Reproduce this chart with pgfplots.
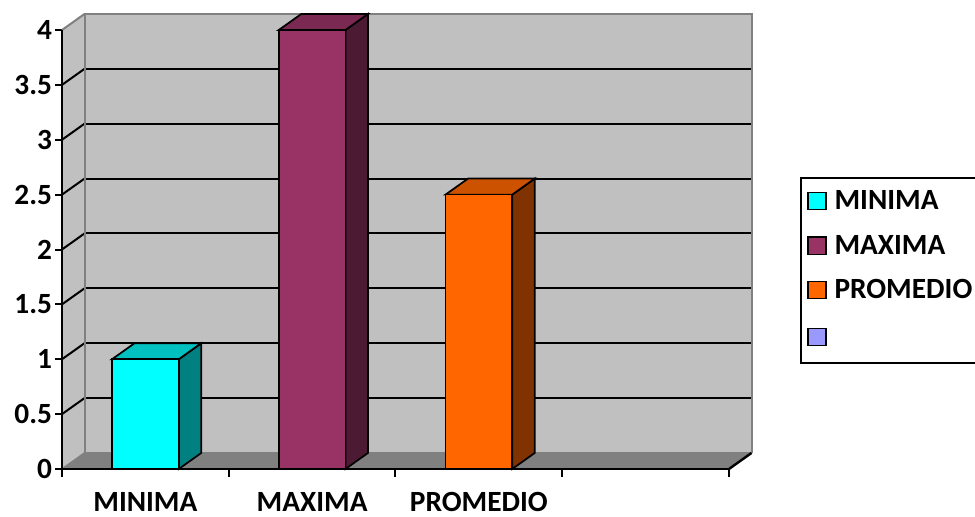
\documentclass[border=0pt]{standalone}
\usepackage{pgfplots}
\pgfplotsset{compat=1.18}
\usepackage{fontspec}
\setmainfont{Carlito}
\definecolor{wall}{HTML}{C0C0C0}
\definecolor{floorc}{HTML}{808080}
\definecolor{edgec}{HTML}{808080}
\definecolor{cyF}{HTML}{00FFFF}\definecolor{cyT}{HTML}{00C0C0}\definecolor{cyS}{HTML}{008080}
\definecolor{mxF}{HTML}{993366}\definecolor{mxT}{HTML}{7A2952}\definecolor{mxS}{HTML}{4D1A33}
\definecolor{prF}{HTML}{FF6600}\definecolor{prT}{HTML}{CC5200}\definecolor{prS}{HTML}{803300}
\definecolor{blu}{HTML}{9999FF}
\begin{document}
\begin{tikzpicture}
\begin{axis}[
  name=ax,
  x=125.06pt, y=82.31pt,
  xmin=0, xmax=4.135, ymin=0, ymax=4.146,
  clip=false,
  axis line style={draw=none},
  axis x line*=bottom, axis y line*=left,
  ytick={0,0.5,1,1.5,2,2.5,3,3.5,4},
  yticklabels={0,0.5,1,1.5,2,2.5,3,3.5,4},
  tick align=outside,
  major tick length=5pt,
  ytick style={black, line width=1.5pt},
  yticklabel style={xshift=1pt},
  xtick={0.5,1.5,2.5},
  xticklabels={MINIMA,MAXIMA,PROMEDIO},
  xtick style={draw=none},
  xticklabel style={yshift=-9pt},
  ticklabel style={font=\bfseries\fontsize{22}{26}\selectfont, text=black},
  /pgf/number format/assume math mode=true,
  legend style={at={(rel axis cs:1.0697,0.6418)}, anchor=north west,
    draw=black, line width=1.5pt, fill=white,
    font=\bfseries\fontsize{22}{26}\selectfont,
    row sep=13.5pt, inner xsep=5pt, inner ysep=7.5pt},
  legend cell align=left,
  legend image code/.code={\draw[#1, draw=black, line width=1pt] (0pt,-6.5pt) rectangle (13.5pt,6.5pt); \path[draw=none, fill=none] (0pt,0pt) -- (18pt,0pt);},
]
% left wall
\addplot[forget plot, fill=wall, draw=none] coordinates {(0,0) (0,4) (0.135,4.146) (0.135,0.146)} -- cycle;
% back wall
\addplot[forget plot, fill=wall, draw=none] coordinates {(0.135,0.146) (0.135,4.146) (4.135,4.146) (4.135,0.146)} -- cycle;
% floor
\addplot[forget plot, fill=floorc, draw=none] coordinates {(0,0) (0.135,0.146) (4.135,0.146) (4,0)} -- cycle;
% gridlines back wall
\addplot[forget plot, black, line width=1.5pt] coordinates {(0.135,0.646) (4.135,0.646)};
\addplot[forget plot, black, line width=1.5pt] coordinates {(0.135,1.146) (4.135,1.146)};
\addplot[forget plot, black, line width=1.5pt] coordinates {(0.135,1.646) (4.135,1.646)};
\addplot[forget plot, black, line width=1.5pt] coordinates {(0.135,2.146) (4.135,2.146)};
\addplot[forget plot, black, line width=1.5pt] coordinates {(0.135,2.646) (4.135,2.646)};
\addplot[forget plot, black, line width=1.5pt] coordinates {(0.135,3.146) (4.135,3.146)};
\addplot[forget plot, black, line width=1.5pt] coordinates {(0.135,3.646) (4.135,3.646)};
% gridlines left wall
\addplot[forget plot, black, line width=1.5pt] coordinates {(0,0.5) (0.135,0.646)};
\addplot[forget plot, black, line width=1.5pt] coordinates {(0,1) (0.135,1.146)};
\addplot[forget plot, black, line width=1.5pt] coordinates {(0,1.5) (0.135,1.646)};
\addplot[forget plot, black, line width=1.5pt] coordinates {(0,2) (0.135,2.146)};
\addplot[forget plot, black, line width=1.5pt] coordinates {(0,2.5) (0.135,2.646)};
\addplot[forget plot, black, line width=1.5pt] coordinates {(0,3) (0.135,3.146)};
\addplot[forget plot, black, line width=1.5pt] coordinates {(0,3.5) (0.135,3.646)};
% wall edges (gray)
\addplot[forget plot, edgec, line width=1.5pt] coordinates {(0.135,0.146) (0.135,4.146) (4.135,4.146) (4.135,0.146)};
\addplot[forget plot, edgec, line width=1.5pt] coordinates {(0,4) (0.135,4.146)};
\addplot[forget plot, edgec, line width=1.2pt] coordinates {(0.135,0.146) (4.135,0.146)};
\addplot[forget plot, edgec, line width=1.2pt] coordinates {(0,0) (0.135,0.146)};
% floor right edge
\addplot[forget plot, black, line width=1.8pt] coordinates {(4,0) (4.135,0.146)};
% front axes
\addplot[forget plot, black, line width=2pt] coordinates {(0,4) (0,0) (4,0)};
% x tick marks
\addplot[forget plot, black, line width=1.5pt] coordinates {(0,0) (0,-0.07)};
\addplot[forget plot, black, line width=1.5pt] coordinates {(1,0) (1,-0.07)};
\addplot[forget plot, black, line width=1.5pt] coordinates {(2,0) (2,-0.07)};
\addplot[forget plot, black, line width=1.5pt] coordinates {(3,0) (3,-0.07)};
\addplot[forget plot, black, line width=1.5pt] coordinates {(4,0) (4,-0.07)};
% bar MINIMA (1)
\addplot[forget plot, fill=cyS, draw=black, line width=1.3pt] coordinates {(0.7,0) (0.835,0.146) (0.835,1.146) (0.7,1)} -- cycle;
\addplot[forget plot, fill=cyT, draw=black, line width=1.3pt] coordinates {(0.3,1) (0.435,1.146) (0.835,1.146) (0.7,1)} -- cycle;
\addplot[forget plot, fill=cyF, draw=black, line width=1.3pt] coordinates {(0.3,0) (0.3,1) (0.7,1) (0.7,0)} -- cycle;
% bar MAXIMA (4)
\addplot[forget plot, fill=mxS, draw=black, line width=1.3pt] coordinates {(1.7,0) (1.835,0.146) (1.835,4.146) (1.7,4)} -- cycle;
\addplot[forget plot, fill=mxT, draw=black, line width=1.3pt] coordinates {(1.3,4) (1.435,4.146) (1.835,4.146) (1.7,4)} -- cycle;
\addplot[forget plot, fill=mxF, draw=black, line width=1.3pt] coordinates {(1.3,0) (1.3,4) (1.7,4) (1.7,0)} -- cycle;
% bar PROMEDIO (2.5)
\addplot[forget plot, fill=prS, draw=black, line width=1.3pt] coordinates {(2.7,0) (2.835,0.146) (2.835,2.646) (2.7,2.5)} -- cycle;
\addplot[forget plot, fill=prT, draw=black, line width=1.3pt] coordinates {(2.3,2.5) (2.435,2.646) (2.835,2.646) (2.7,2.5)} -- cycle;
\addplot[forget plot, fill=prF, draw=black, line width=1.3pt] coordinates {(2.3,0) (2.3,2.5) (2.7,2.5) (2.7,0)} -- cycle;
% legend
\addlegendimage{fill=cyF}\addlegendentry{MINIMA}
\addlegendimage{fill=mxF}\addlegendentry{MAXIMA}
\addlegendimage{fill=prF}\addlegendentry{PROMEDIO}
\addlegendimage{fill=blu}\addlegendentry{\strut}
\end{axis}
\pgfresetboundingbox
\path[use as bounding box] ([xshift=-46.5pt,yshift=-36pt]ax.south west) rectangle ([xshift=684.75pt,yshift=351.75pt]ax.south west);
\end{tikzpicture}
\end{document}
